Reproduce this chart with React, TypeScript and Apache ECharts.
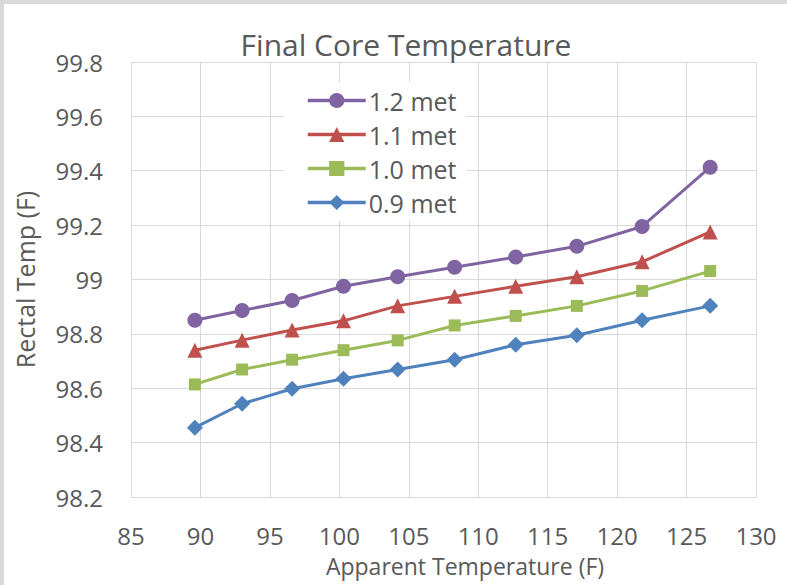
import React, { useEffect, useRef } from "react";
import * as echarts from "echarts";

const xValues = [89.6, 93.0, 96.6, 100.3, 104.2, 108.3, 112.7, 117.1, 121.8, 126.7];
const met12 = [98.85, 98.886, 98.923, 98.975, 99.01, 99.045, 99.083, 99.122, 99.195, 99.413];
const met11 = [98.74, 98.777, 98.814, 98.848, 98.903, 98.938, 98.975, 99.01, 99.065, 99.175];
const met10 = [98.614, 98.669, 98.705, 98.74, 98.776, 98.831, 98.866, 98.903, 98.958, 99.031];
const met09 = [98.455, 98.543, 98.598, 98.635, 98.669, 98.705, 98.76, 98.795, 98.85, 98.903];

const seriesNames = ["1.2 met", "1.1 met", "1.0 met", "0.9 met"];
const seriesColors = ["#8064A2", "#C0504D", "#9BBB59", "#4F81BD"];
const seriesSymbols = ["circle", "triangle", "rect", "diamond"];
const seriesSizes = [15, 15, 12, 16];
const seriesData = [met12, met11, met10, met09];

const FONT = "'Open Sans', 'Noto Sans', sans-serif";
const TEXT = "#595959";

export default function App() {
  const ref = useRef<HTMLDivElement>(null);
  useEffect(() => {
    if (!ref.current) return;
    const chart = echarts.init(ref.current, null, { renderer: "svg" });
    chart.setOption({
      animation: false,
      backgroundColor: "#ffffff",
      title: {
        text: "Final Core Temperature",
        left: 401,
        textAlign: "center",
        top: 24,
        textStyle: { fontFamily: FONT, fontSize: 30, fontWeight: "normal", color: TEXT },
      },
      graphic: [
        { type: "rect", shape: { x: 0, y: 0, width: 787, height: 4 }, style: { fill: "#d9d9d9" }, silent: true },
        { type: "rect", shape: { x: 0, y: 0, width: 4, height: 585 }, style: { fill: "#d9d9d9" }, silent: true },
      ],
      legend: {
        orient: "vertical",
        left: 284,
        top: 82,
        data: seriesNames,
        itemWidth: 58,
        itemHeight: 19,
        itemGap: 9,
        padding: [6, 10, 6, 22],
        backgroundColor: "#ffffff",
        lineStyle: { width: 3.5 },
        textStyle: { fontFamily: FONT, fontSize: 25, color: TEXT, padding: [0, 0, 0, -2] },
      },
      grid: { left: 131, right: 31, top: 62, bottom: 88, containLabel: false },
      xAxis: {
        type: "value",
        min: 85,
        max: 130,
        interval: 5,
        name: "Apparent Temperature (F)",
        nameLocation: "middle",
        nameGap: 57,
        nameTextStyle: { fontFamily: FONT, fontSize: 23, color: TEXT, padding: [0, 0, 0, 43] },
        axisLine: { show: true, lineStyle: { color: "#d9d9d9", width: 1 } },
        axisTick: { show: false },
        axisLabel: { fontFamily: FONT, fontSize: 24, color: TEXT, margin: 26 },
        splitLine: { show: true, lineStyle: { color: "#d9d9d9", width: 1 } },
      },
      yAxis: {
        type: "value",
        min: 98.2,
        max: 99.8,
        interval: 0.2,
        name: "Rectal Temp (F)",
        nameLocation: "middle",
        nameGap: 94,
        nameRotate: 90,
        nameTextStyle: { fontFamily: FONT, fontSize: 25, color: TEXT },
        axisLine: { show: true, lineStyle: { color: "#d9d9d9", width: 1 } },
        axisTick: { show: false },
        axisLabel: {
          fontFamily: FONT,
          fontSize: 24,
          color: TEXT,
          margin: 28,
          formatter: (v: number) => String(Math.round(v * 10) / 10),
        },
        splitLine: { show: true, lineStyle: { color: "#d9d9d9", width: 1 } },
      },
      series: seriesNames.map((name, i) => ({
        name,
        type: "line",
        data: xValues.map((x, j) => [x, seriesData[i][j]]),
        symbol: seriesSymbols[i],
        symbolSize: seriesSizes[i],
        showAllSymbol: true,
        lineStyle: { color: seriesColors[i], width: 3 },
        itemStyle: { color: seriesColors[i] },
        z: 10 - i,
      })),
    });
    return () => chart.dispose();
  }, []);
  return (
    <div
      ref={ref}
      style={{ position: "absolute", left: 0, top: 0, width: 787, height: 585 }}
    />
  );
}
